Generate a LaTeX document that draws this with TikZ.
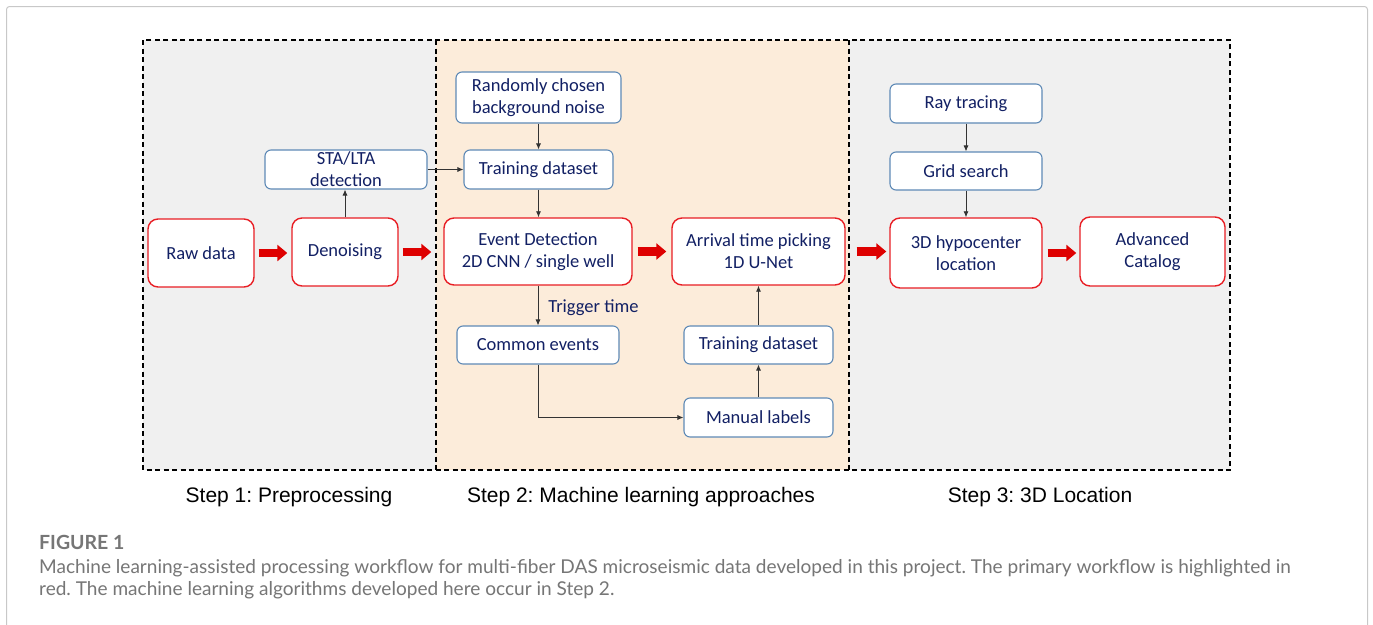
\documentclass[tikz,border=0pt]{standalone}
\usepackage{fontspec}
\setmainfont{Carlito}
\newfontfamily\stepfont{Liberation Sans}
\newfontfamily\capfont{Lato}
\usetikzlibrary{arrows.meta,positioning}
\definecolor{navy}{RGB}{18,32,100}
\definecolor{boxblue}{RGB}{95,138,182}
\definecolor{boxred}{RGB}{232,30,36}
\definecolor{arrred}{RGB}{222,0,0}
\definecolor{graybg}{RGB}{240,240,240}
\definecolor{peach}{RGB}{252,236,218}
\definecolor{capgray}{RGB}{118,118,118}
\definecolor{framegray}{RGB}{200,200,200}
\frenchspacing
\begin{document}
\begin{tikzpicture}[x=1pt,y=-1pt,
  bbox/.style={draw=boxblue, line width=1.1pt, fill=white, rounded corners=6pt,
    inner sep=0pt, align=center, text=navy, font=\fontsize{18.5}{22}\selectfont},
  rbox/.style={bbox, draw=boxred, line width=1.4pt, rounded corners=10pt},
  thinarr/.style={draw=black!80, line width=0.8pt, -{Latex[length=6pt,width=5pt]}},
  redarr/.style={draw=arrred, line width=8.5pt, -{Triangle[length=10pt,width=16pt]}},
  dashline/.style={draw=black, line width=1.4pt, dash pattern=on 5pt off 3.5pt},
  steplabel/.style={anchor=base, inner sep=0pt, font=\stepfont\fontsize{21}{24}\selectfont},
  captext/.style={anchor=base west, inner sep=0pt, text=capgray, font=\capfont\fontsize{19.05}{22}\selectfont},
]
\clip (0,0) rectangle (1373,624);
\fill[white] (0,0) rectangle (1373,624);
\draw[framegray, line width=1pt, rounded corners=3pt] (6.5,6.5) rectangle (1367.5,700);

% regions
\fill[graybg] (143,40) rectangle (436,470);
\fill[peach] (436,40) rectangle (849,470);
\fill[graybg] (849,40) rectangle (1230,470);
\draw[dashline] (143,40) rectangle (1230,470);
\draw[dashline] (436,40) -- (436,470);
\draw[dashline] (849,40) -- (849,470);

% step 1
\node[rbox, minimum width=106pt, minimum height=68pt] (raw) at (201,253) {Raw data};
\node[rbox, minimum width=106pt, minimum height=68pt] (den) at (345,252) {Denoising};
\node[bbox, minimum width=162pt, minimum height=39pt] (sta) at (346,169.5) {STA/LTA\\detection};

% step 2
\node[bbox, minimum width=165pt, minimum height=51pt] (rand) at (538.5,97.5) {Randomly chosen\\background noise};
\node[bbox, minimum width=149pt, minimum height=39pt] (trainA) at (538.5,169.5) {Training dataset};
\node[rbox, minimum width=188pt, minimum height=67pt] (ed) at (538,251.5) {Event Detection\\2D CNN / single well};
\node[rbox, minimum width=173pt, minimum height=67pt] (arr) at (758.5,251.5) {Arrival time picking\\1D U-Net};
\node[bbox, minimum width=162pt, minimum height=38pt] (common) at (538,345) {Common events};
\node[bbox, minimum width=149pt, minimum height=38pt] (trainB) at (758.5,345) {Training dataset};
\node[bbox, minimum width=149pt, minimum height=39pt] (manual) at (758.5,417.5) {Manual labels};

% step 3
\node[bbox, minimum width=152pt, minimum height=39pt] (ray) at (966,103.5) {Ray tracing};
\node[bbox, minimum width=152pt, minimum height=38pt] (grid) at (966,171) {Grid search};
\node[rbox, minimum width=152pt, minimum height=70pt] (hypo) at (966,253) {3D hypocenter\\location};
\node[rbox, minimum width=145pt, minimum height=69pt] (adv) at (1152.5,251.5) {Advanced\\Catalog};

% thin connectors
\draw[thinarr] (den.north) -- (den.north |- sta.south);
\draw[thinarr] (sta.east) -- (trainA.west);
\draw[thinarr] (rand.south) -- (trainA.north);
\draw[thinarr] (trainA.south) -- (trainA.south |- ed.north);
\draw[thinarr] (ed.south) -- (common.north)
  node[pos=0.68, anchor=base west, xshift=10pt, inner sep=0pt, text=navy,
       font=\fontsize{18.5}{22}\selectfont] (trig) {Trigger time};
\draw[thinarr] (common.south) -- (common.south |- manual.west) -- (manual.west);
\draw[thinarr] (manual.north) -- (trainB.south);
\draw[thinarr] (trainB.north) -- (arr.south);
\draw[thinarr] (ray.south) -- (grid.north);
\draw[thinarr] (grid.south) -- (hypo.north);

% red flow arrows
\draw[redarr, shorten <=4pt, shorten >=4pt] (raw.east) -- (raw.east -| den.west);
\draw[redarr, shorten <=4pt, shorten >=12pt] (den.east) -- (den.east -| ed.west);
\draw[redarr, shorten <=5pt, shorten >=5pt] (ed.east) -- (arr.west);
\draw[redarr, shorten <=11pt, shorten >=3pt] (arr.east) -- (arr.east -| hypo.west);
\draw[redarr, shorten <=5pt, shorten >=3pt] (hypo.east) -- (hypo.east -| adv.west);

% step labels
\node[steplabel] (s1) at (289,502) {Step 1: Preprocessing};
\node[steplabel] (s2) at (641,502) {Step 2: Machine learning approaches};
\node[steplabel] (s3) at (1040,502) {Step 3: 3D Location};

% caption
\node[captext, font=\capfont\bfseries\fontsize{19.5}{22}\selectfont] (fig) at (39,549) {FIGURE 1};
\node[captext] (cap1) at (39,573) {Machine learning-assisted processing workflow for multi-fiber DAS microseismic data developed in this project. The primary workflow is highlighted in};
\node[captext] (cap2) at (39,595) {red. The machine learning algorithms developed here occur in Step 2.};
\end{tikzpicture}
\end{document}
